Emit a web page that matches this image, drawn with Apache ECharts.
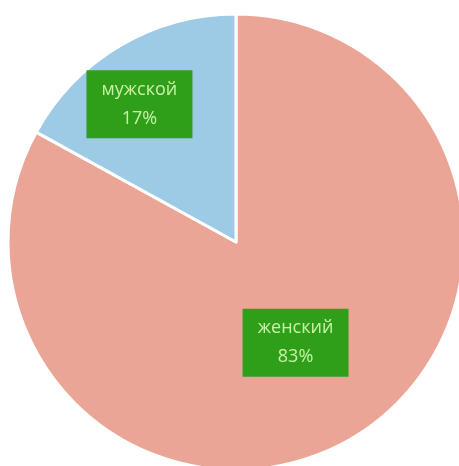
<!DOCTYPE html>
<html>
<head>
<meta charset="utf-8">
<script src="https://cdn.jsdelivr.net/npm/echarts@6/dist/echarts.min.js"></script>
<style>
  html, body { margin: 0; padding: 0; background: #fff; }
  #pie { width: 459px; height: 466px; }
</style>
</head>
<body>
<div id="pie"></div>
<script>
const names = ["женский", "мужской"];
const values = [83, 17];
const colors = ["#eba597", "#9dcbe6"];
const labelOffsets = [[0, 0], [-37, -37]];

var myChart = echarts.init(document.getElementById("pie"));
var option = {
  animation: false,
  series: [
    {
      type: "pie",
      center: [236, 242],
      radius: 228,
      startAngle: 90,
      clockwise: true,
      itemStyle: {
        borderColor: "#fff",
        borderWidth: 3,
      },
      label: {
        show: true,
        position: "inside",
        formatter: "{b}\n{d}%",
        color: "#c9f2a6",
        fontFamily: "Open Sans",
        fontSize: 18,
        lineHeight: 29,
        backgroundColor: "#2f9f1a",
        padding: [5, 8],
        width: 90,
        align: "center",
      },
      labelLine: { show: false },
      data: names.map((item, i) => {
        return {
          name: item,
          value: values[i],
          itemStyle: { color: colors[i] },
          label: { offset: labelOffsets[i] },
        };
      }),
    },
  ],
};
myChart.setOption(option);
</script>
</body>
</html>
